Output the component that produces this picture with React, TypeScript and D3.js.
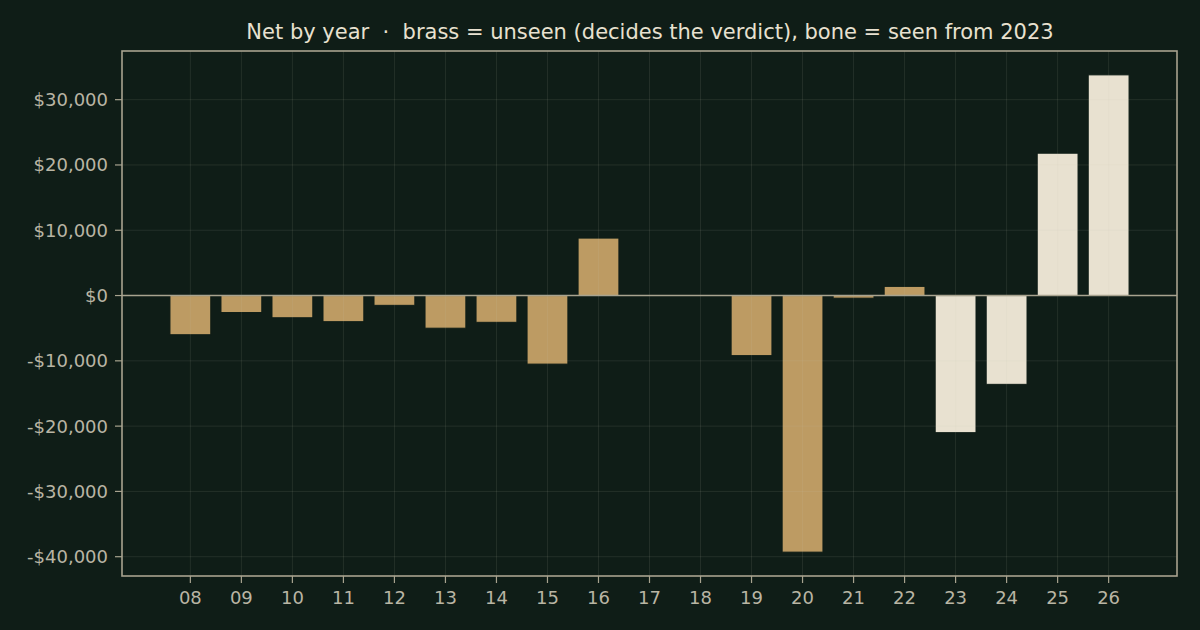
import React from "react";
import * as d3 from "d3";

const years = ["08","09","10","11","12","13","14","15","16","17","18","19","20","21","22","23","24","25","26"];
const netValues = [-6000,-2600,-3400,-4000,-1500,-5000,-4100,-10500,8800,0,0,-9200,-39300,-400,1400,-21000,-13600,21800,33800];
const seenFrom = 23;
const yTicks = [-40000,-30000,-20000,-10000,0,10000,20000,30000];
const title = "Net by year  ·  brass = unseen (decides the verdict), bone = seen from 2023";

const W = 1200, H = 630;
const left = 122, right = 1177, top = 51, bottom = 576;
const BG = "#0f1d17";
const BRASS = "#bd9b63";
const BONE = "#e8e1d0";
const AXIS = "#a8a38f";
const TICK_TEXT = "#b9b5a4";
const GRID = "rgba(200,200,180,0.14)";
const FONT = "'DejaVu Sans', sans-serif";

export default function App() {
  const n = years.length;
  const x = d3.scaleLinear().domain([-1.34, n - 1 + 1.34]).range([left, right]);
  const ymin = d3.min(netValues)!, ymax = d3.max(netValues)!;
  const span = ymax - ymin;
  const y = d3.scaleLinear().domain([ymin - 0.05 * span, ymax + 0.05 * span]).range([bottom, top]);
  const fmt = (v: number) => (v < 0 ? "-$" : "$") + d3.format(",")(Math.abs(v));
  const bw = 0.8;
  return (
    <div style={{ position: "fixed", left: 0, top: 0, width: W, height: H, background: BG }}>
      <svg width={W} height={H} style={{ display: "block", fontFamily: FONT }}>
        <rect x={0} y={0} width={W} height={H} fill={BG} />
        {netValues.map((v, i) => {
          const yr = +years[i];
          const x0 = x(i - bw / 2), x1 = x(i + bw / 2);
          const ya = y(Math.max(0, v)), yb = y(Math.min(0, v));
          return (
            <rect key={i} x={x0} y={ya} width={x1 - x0} height={Math.max(0, yb - ya)}
              fill={yr >= seenFrom ? BONE : BRASS} stroke={BG} strokeWidth={1} />
          );
        })}
        {years.map((_, i) => (
          <line key={"gx" + i} x1={x(i)} x2={x(i)} y1={top} y2={bottom} stroke={GRID} strokeWidth={0.8} />
        ))}
        {yTicks.map((t) => (
          <line key={"gy" + t} x1={left} x2={right} y1={y(t)} y2={y(t)} stroke={GRID} strokeWidth={0.8} />
        ))}
        <line x1={left} x2={right} y1={y(0)} y2={y(0)} stroke={AXIS} strokeWidth={1.6} />
        <rect x={left} y={top} width={right - left} height={bottom - top} fill="none" stroke={AXIS} strokeWidth={1.6} />
        {yTicks.map((t) => (
          <g key={"ty" + t}>
            <line x1={left - 7} x2={left} y1={y(t)} y2={y(t)} stroke={AXIS} strokeWidth={1.2} />
            <text x={left - 14} y={y(t)} dy="0.36em" textAnchor="end" fill={TICK_TEXT} fontSize={18}>{fmt(t)}</text>
          </g>
        ))}
        {years.map((yr, i) => (
          <g key={"tx" + i}>
            <line x1={x(i)} x2={x(i)} y1={bottom} y2={bottom + 7} stroke={AXIS} strokeWidth={1.2} />
            <text x={x(i)} y={bottom + 28} textAnchor="middle" fill={TICK_TEXT} fontSize={18}>{yr}</text>
          </g>
        ))}
        <text x={(left + right) / 2 + 0.5} y={39} textAnchor="middle" fill={BONE} fontSize={21}
          style={{ whiteSpace: "pre" }}>{title}</text>
      </svg>
    </div>
  );
}
